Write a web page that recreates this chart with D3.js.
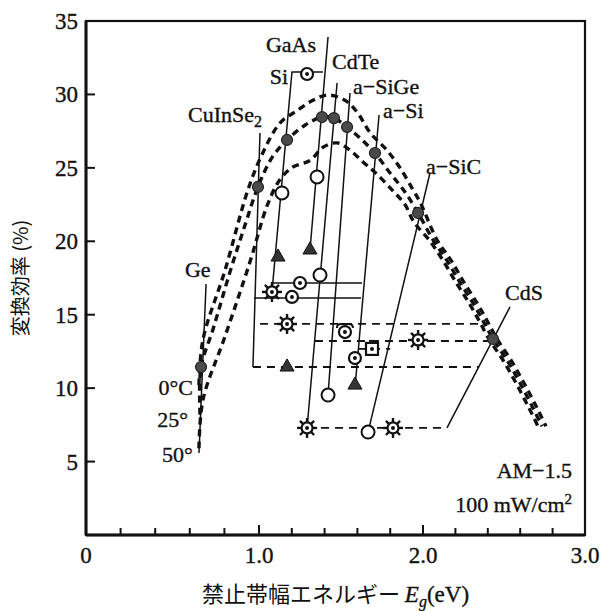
<!DOCTYPE html>
<html>
<head>
<meta charset="utf-8">
<script src="https://cdn.jsdelivr.net/npm/d3@7"></script>
<style>
  body { margin: 0; background: #fff; }
  text { font-family: "Liberation Serif", "Times New Roman", serif; fill: #111; stroke: #111; stroke-width: 0.35px; }
  .jp { font-family: "Noto Sans CJK JP", sans-serif; stroke-width: 0; }
</style>
</head>
<body>
<svg id="chart" width="604" height="611"></svg>
<script>
// band gap Eg (eV) vs conversion efficiency (%), AM-1.5
var xTicks = [0, 1, 2, 3];
var xTickLabels = ["0", "1.0", "2.0", "3.0"];
var yTicks = [5, 10, 15, 20, 25, 30, 35];

// theoretical limit curves for 0°C, 25°, 50°
var curve0C = [[0.653,10.2],[0.676,13.3],[0.803,18.0],[0.936,23.5],[1.018,25.9],[1.128,28.05],
  [1.232,28.9],[1.329,29.6],[1.421,29.96],[1.524,29.6],[1.598,28.8],[1.677,27.4],[1.780,26.2],
  [1.860,25.0],[1.939,23.5],[1.985,22.6],[2.086,20.1],[2.173,18.7],[2.253,17.2],[2.333,15.8],
  [2.395,14.6],[2.457,13.35],[2.543,11.9],[2.623,10.35],[2.704,8.65],[2.759,7.4]];
var curve25C = [[0.659,8.2],[0.665,11.44],[0.734,14.0],[0.832,17.9],[0.919,21.1],[0.994,23.7],
  [1.079,25.7],[1.171,26.9],[1.280,27.9],[1.384,28.46],[1.457,28.39],[1.537,27.78],[1.628,26.9],
  [1.707,26.0],[1.799,24.65],[1.890,23.36],[1.970,21.93],[2.062,20.1],[2.148,18.7],[2.228,17.2],
  [2.309,15.8],[2.370,14.6],[2.432,13.35],[2.519,11.9],[2.599,10.35],[2.679,8.65],[2.735,7.4]];
var curve50C = [[0.653,5.9],[0.676,9.2],[0.803,13.5],[0.948,18.6],[1.052,22.5],[1.128,24.2],
  [1.207,25.06],[1.311,25.5],[1.390,26.4],[1.476,26.7],[1.555,26.2],[1.634,25.4],[1.707,24.7],
  [1.811,23.5],[1.890,22.5],[1.945,21.3],[2.037,20.1],[2.123,18.7],[2.204,17.2],[2.284,15.8],
  [2.346,14.6],[2.407,13.35],[2.494,11.9],[2.574,10.35],[2.654,8.65],[2.710,7.4]];

// theoretical points on the 25° curve
var materials = ["Ge", "CuInSe2", "Si", "GaAs", "CdTe", "a-SiGe", "a-Si", "a-SiC", "CdS"];
var theoryEg = [0.665, 0.994, 1.171, 1.384, 1.457, 1.537, 1.707, 1.970, 2.432];
var theoryEff = [11.44, 23.70, 26.90, 28.46, 28.39, 27.78, 26.01, 21.93, 13.35];

// leader lines from each label down through its points
var leaderLines = [
  [[0.694,17.09],[0.653,5.58]],
  [[1.006,27.37],[0.965,11.44]],
  [[1.390,31.53],[1.201,31.53],[1.079,16.55]],
  [[1.421,33.91],[1.311,19.41]],
  [[1.476,30.78],[1.293,7.29]],
  [[1.555,30.10],[1.421,9.53]],
  [[1.732,28.60],[1.585,10.01]],
  [[2.043,24.65],[1.665,7.01]],
  [[2.537,15.53],[2.148,7.29]]
];
// horizontal links between cell results: [efficiency, Eg from, Eg to]
var solidLinks = [[17.16,1.079,1.628],[16.14,0.971,1.622]];
var dashedLinks = [[14.37,1.006,2.395],[13.21,1.341,2.432],[11.44,0.965,2.340],[7.29,1.293,2.148],[12.67,1.604,1.80]];

// experimental cells
var openCircles = [[1.140,23.29],[1.354,24.38],[1.372,17.70],[1.421,9.53],[1.665,7.01]];
var triangles = [[1.116,18.93],[1.311,19.41],[1.171,11.44],[1.585,10.21]];
var dotCircles = [[1.250,17.16],[1.201,16.21],[1.585,12.05],[1.293,31.39]];
var hornCircles = [[1.524,13.82]];
var dotSquares = [[1.689,12.67]];
var sunbursts = [[1.079,16.55],[1.171,14.37],[1.970,13.28],[1.293,7.29],[1.817,7.29]];

// text labels: [text, Eg, eff, anchor]
var labels = [
  ["GaAs",1.195,32.89,"middle"],["Si",1.177,30.71,"end"],["CdTe",1.445,31.7,"start"],
  ["a−SiGe",1.573,30.0,"start"],["a−Si",1.756,28.4,"start"],["a−SiC",2.019,24.58,"start"],
  ["Ge",0.572,17.57,"start"],["CdS",2.506,16.0,"start"],
  ["0°C",0.618,9.53,"end"],["25°",0.590,7.35,"end"],["50°",0.618,4.97,"end"],
  ["AM−1.5",2.920,3.88,"end"]
];

var svg = d3.select("#chart");
var x = d3.scaleLinear().domain([0, 1, 2, 3]).range([86, 259, 423, 585]);
var y = d3.scaleLinear().domain([0, 35]).range([535, 21]);

var g = svg.append("g");

// frame
g.append("rect")
    .attr("x", x(0)).attr("y", y(35))
    .attr("width", x(3) - x(0)).attr("height", y(0) - y(35))
    .attr("fill", "none").attr("stroke", "#111").attr("stroke-width", 2.2);
g.append("line").attr("x1", x(0)).attr("x2", x(0)).attr("y1", y(35)).attr("y2", y(0))
    .attr("stroke", "#111").attr("stroke-width", 3);
g.append("line").attr("x1", x(0)).attr("x2", x(3)).attr("y1", y(0)).attr("y2", y(0))
    .attr("stroke", "#111").attr("stroke-width", 3);

// y ticks (inside)
g.selectAll(".yt").data(yTicks).enter().append("line")
    .attr("x1", x(0)).attr("x2", x(0) + 9)
    .attr("y1", function (d) { return y(d); }).attr("y2", function (d) { return y(d); })
    .attr("stroke", "#111").attr("stroke-width", 2);
g.selectAll(".yl").data(yTicks).enter().append("text")
    .attr("x", x(0) - 8).attr("y", function (d) { return y(d) + 8; })
    .attr("text-anchor", "end").attr("font-size", 23)
    .text(function (d) { return d; });

// x ticks, minor every 0.2
var minor = d3.range(1, 15).map(function (i) { return i * 0.2; })
    .filter(function (d) { return Math.abs(d - Math.round(d)) > 0.01; });
g.selectAll(".xm").data(minor).enter().append("line")
    .attr("x1", function (d) { return x(d); }).attr("x2", function (d) { return x(d); })
    .attr("y1", y(0)).attr("y2", y(0) - 7)
    .attr("stroke", "#111").attr("stroke-width", 2);
g.selectAll(".xt").data(xTicks).enter().append("line")
    .attr("x1", function (d) { return x(d); }).attr("x2", function (d) { return x(d); })
    .attr("y1", y(0)).attr("y2", y(0) - 10)
    .attr("stroke", "#111").attr("stroke-width", 2);
g.selectAll(".xl").data(xTicks).enter().append("text")
    .attr("x", function (d) { return x(d); }).attr("y", 563)
    .attr("text-anchor", "middle").attr("font-size", 23)
    .text(function (d, i) { return xTickLabels[i]; });

// axis titles
g.append("text").attr("class", "jp")
    .attr("transform", "translate(28," + ((y(0) + y(35)) / 2) + ") rotate(-90)")
    .attr("text-anchor", "middle").attr("font-size", 20)
    .text("変換効率 (%)");
var xt = g.append("text").attr("x", (x(0) + x(3)) / 2).attr("y", 602)
    .attr("text-anchor", "middle").attr("font-size", 22);
xt.append("tspan").attr("class", "jp").text("禁止帯幅エネルギー ");
xt.append("tspan").attr("font-style", "italic").attr("font-size", 23).text("E");
xt.append("tspan").attr("font-style", "italic").attr("font-size", 16).attr("dy", 5).text("g");
xt.append("tspan").attr("font-size", 23).attr("dy", -5).text("(eV)");

// theoretical curves
var line = d3.line()
    .x(function (d) { return x(d[0]); })
    .y(function (d) { return y(d[1]); })
    .curve(d3.curveCatmullRom.alpha(0.5));
[curve0C, curve25C, curve50C].forEach(function (c) {
    g.append("path").datum(c).attr("d", line)
        .attr("fill", "none").attr("stroke", "#111")
        .attr("stroke-width", 3.4).attr("stroke-dasharray", "7,5");
});

// leader lines and links
var straight = d3.line()
    .x(function (d) { return x(d[0]); })
    .y(function (d) { return y(d[1]); });
leaderLines.forEach(function (l) {
    g.append("path").attr("d", straight(l))
        .attr("fill", "none").attr("stroke", "#111").attr("stroke-width", 1.5);
});
solidLinks.forEach(function (l) {
    g.append("line").attr("x1", x(l[1])).attr("x2", x(l[2]))
        .attr("y1", y(l[0])).attr("y2", y(l[0]))
        .attr("stroke", "#111").attr("stroke-width", 1.6);
});
dashedLinks.forEach(function (l) {
    g.append("line").attr("x1", x(l[1])).attr("x2", x(l[2]))
        .attr("y1", y(l[0])).attr("y2", y(l[0]))
        .attr("stroke", "#111").attr("stroke-width", 1.8).attr("stroke-dasharray", "8,6");
});

// markers
function at(d) { return "translate(" + x(d[0]) + "," + y(d[1]) + ")"; }

g.selectAll(".th").data(theoryEg).enter().append("circle")
    .attr("cx", function (d) { return x(d); })
    .attr("cy", function (d, i) { return y(theoryEff[i]); })
    .attr("r", 5.5).attr("fill", "#4a4a4a").attr("stroke", "#222").attr("stroke-width", 1.2);

g.selectAll(".oc").data(openCircles).enter().append("circle")
    .attr("transform", at).attr("r", 6.5)
    .attr("fill", "#fff").attr("stroke", "#111").attr("stroke-width", 2);

g.selectAll(".tr").data(triangles).enter().append("path")
    .attr("transform", at).attr("d", d3.symbol(d3.symbolTriangle).size(85))
    .attr("fill", "#333").attr("stroke", "#111").attr("stroke-width", 1);

function dotted(sel, r) {
    sel.append("circle").attr("r", r).attr("fill", "#fff").attr("stroke", "#111").attr("stroke-width", 2.2);
    sel.append("circle").attr("r", 2).attr("fill", "#111");
}
var dc = g.selectAll(".dc").data(dotCircles).enter().append("g").attr("transform", at);
dotted(dc, 6);

var hc = g.selectAll(".hc").data(hornCircles).enter().append("g").attr("transform", at);
hc.append("path").attr("d", "M-8,-4 Q-8,-8 -4,-8 L4,-8 Q8,-8 8,-4")
    .attr("fill", "none").attr("stroke", "#111").attr("stroke-width", 2);
dotted(hc, 6);

var ds = g.selectAll(".ds").data(dotSquares).enter().append("g").attr("transform", at);
ds.append("rect").attr("x", -6).attr("y", -6).attr("width", 12).attr("height", 12)
    .attr("fill", "#fff").attr("stroke", "#111").attr("stroke-width", 2.2);
ds.append("line").attr("x1", -3).attr("x2", 3).attr("y1", -8).attr("y2", -8)
    .attr("stroke", "#111").attr("stroke-width", 2);
ds.append("circle").attr("r", 2).attr("fill", "#111");

var sb = g.selectAll(".sb").data(sunbursts).enter().append("g").attr("transform", at);
sb.selectAll("line").data(d3.range(8)).enter().append("line")
    .attr("x1", function (k) { return 5 * Math.cos(k * Math.PI / 4); })
    .attr("y1", function (k) { return 5 * Math.sin(k * Math.PI / 4); })
    .attr("x2", function (k) { return 10 * Math.cos(k * Math.PI / 4); })
    .attr("y2", function (k) { return 10 * Math.sin(k * Math.PI / 4); })
    .attr("stroke", "#111").attr("stroke-width", 2.4);
dotted(sb, 5.5);

// labels
g.selectAll(".lb").data(labels).enter().append("text")
    .attr("x", function (d) { return x(d[1]); })
    .attr("y", function (d) { return y(d[2]); })
    .attr("text-anchor", function (d) { return d[3]; })
    .attr("font-size", 22)
    .text(function (d) { return d[0]; });

var cu = g.append("text").attr("x", x(0.590)).attr("y", y(28.12)).attr("font-size", 22);
cu.append("tspan").text("CuInSe");
cu.append("tspan").attr("font-size", 16).attr("dy", 5).text("2");

var pw = g.append("text").attr("x", x(2.920)).attr("y", y(1.57))
    .attr("text-anchor", "end").attr("font-size", 22);
pw.append("tspan").text("100 mW/cm");
pw.append("tspan").attr("font-size", 15).attr("dy", -8).text("2");
</script>
</body>
</html>
